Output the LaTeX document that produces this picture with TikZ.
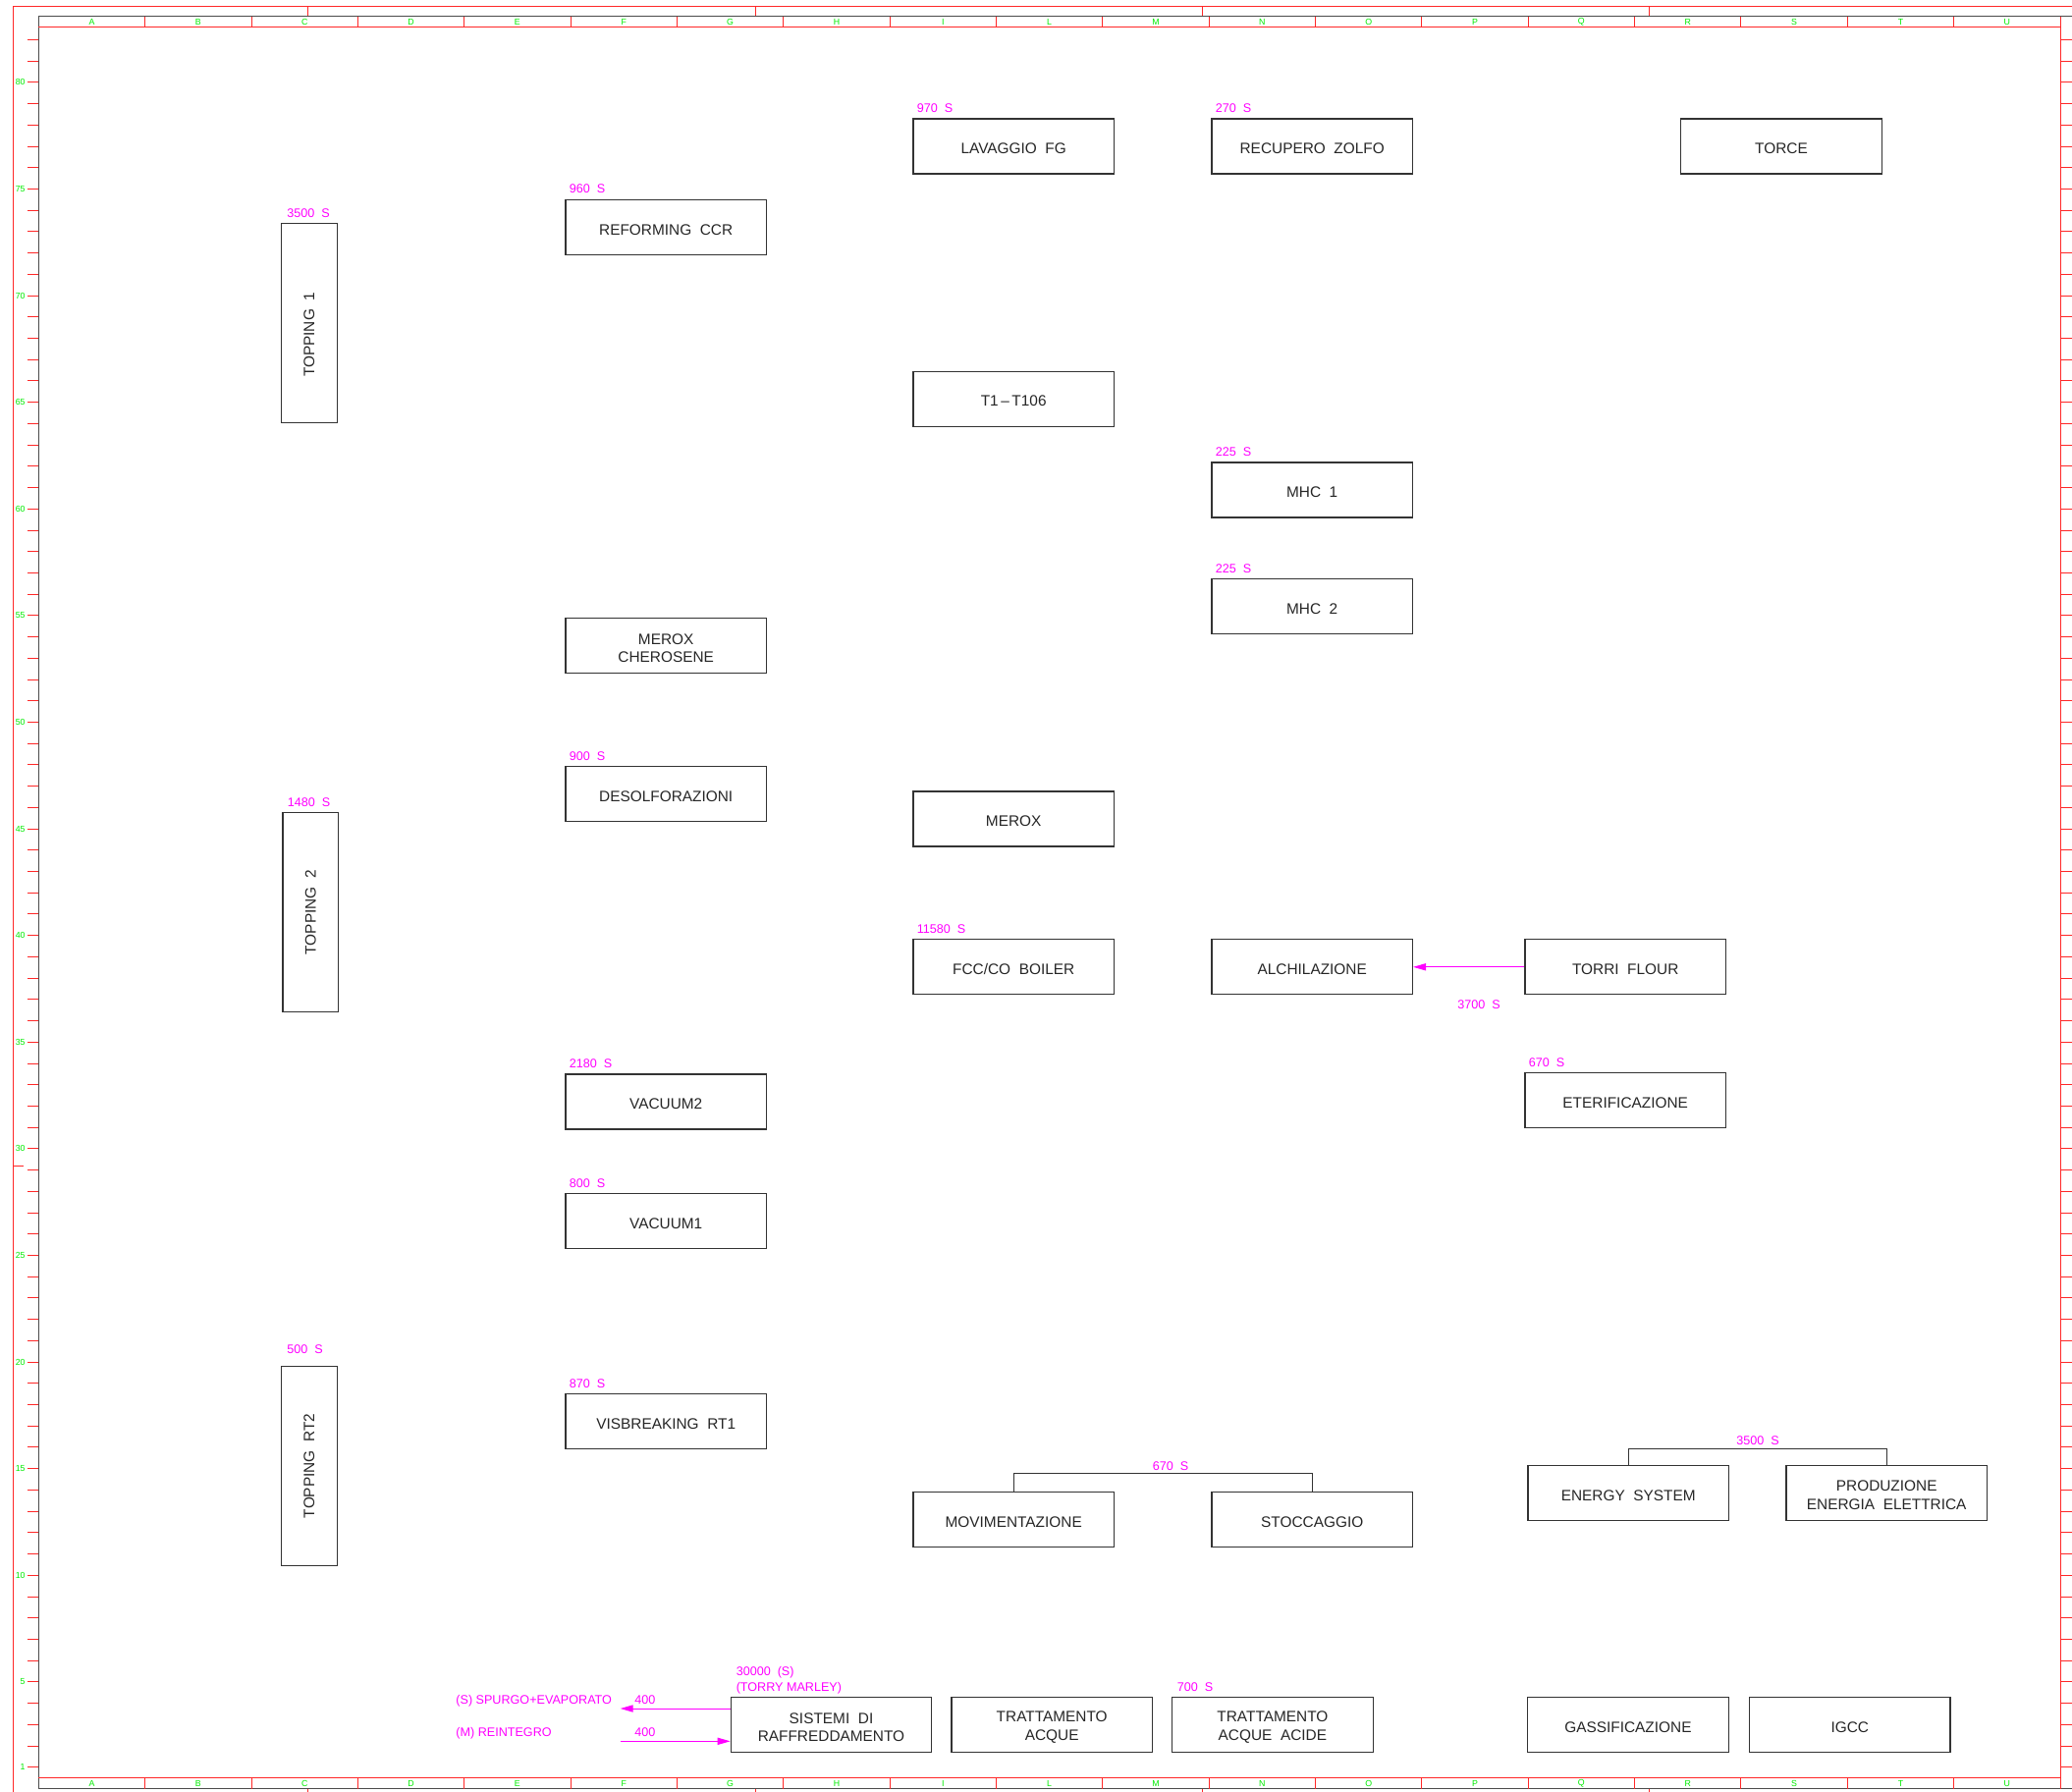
\documentclass[tikz,border=0pt]{standalone}
\usepackage{fontspec}
\setmainfont{Liberation Sans}
\usetikzlibrary{arrows.meta}
\definecolor{cadred}{RGB}{255,40,40}
\definecolor{cadgreen}{RGB}{0,235,0}
\definecolor{cadmag}{RGB}{255,0,255}
\newcommand{\ut}{\rule{0pt}{7.9pt}}
\tikzset{
  redl/.style={draw=cadred, line width=0.5pt},
  blackl/.style={draw=black!70, line width=0.7pt},
  unit/.style={draw=black!80, line width=0.6pt, minimum width=102.25pt, minimum height=28pt,
    inner sep=0pt, align=center, text=black!85, font=\fontsize{7.7}{9.3}\selectfont},
  vunit/.style={unit, minimum width=28.25pt, minimum height=101.6pt},
  lab/.style={text=cadmag, font=\fontsize{6.3}{7.8}\selectfont, inner sep=0pt, anchor=base west},
  rulerlab/.style={text=cadgreen, font=\fontsize{4.4}{5}\selectfont, inner sep=0pt},
  marrow/.style={draw=cadmag, line width=0.5pt, -{Triangle[length=6.5pt,width=3.6pt]}},
  bracket/.style={draw=black!80, line width=0.55pt}
}
\begin{document}
\begin{tikzpicture}[x=0.5pt,y=-0.5pt]
\useasboundingbox (0,0) rectangle (2110,1825);
% ---------------- sheet frame ----------------
\draw[redl] (13,1825) -- (13,6.5) -- (2110,6.5);
\foreach \xx in {313.6,769.7,1224.6,1679.4} {
  \draw[redl] (\xx,6.5) -- (\xx,16.7);
  \draw[redl] (\xx,1821.7) -- (\xx,1825);
}
\draw[redl] (13,1187) -- (24,1187);
\draw[blackl] (2110,16.7) -- (39.3,16.7) -- (39.3,1821.7) -- (2110,1821.7);
\draw[redl] (2098,16.7) -- (2098,1821.7);
\draw[redl] (39.3,27.7) -- (2098,27.7);
\draw[redl] (39.3,1810.3) -- (2098,1810.3);
\foreach \i in {1,...,18} {
  \draw[redl] ({39.3+108.35*\i},16.7) -- ({39.3+108.35*\i},27.7);
  \draw[redl] ({39.3+108.35*\i},1810.3) -- ({39.3+108.35*\i},1821.7);
}
\foreach \l [count=\i] in {A,B,C,D,E,F,G,H,I,L,M,N,O,P,Q,R,S,T,U} {
  \node[rulerlab] (ct\i) at ({39.3+108.35*(\i-0.5)},22.4) {\l};
  \node[rulerlab] (cb\i) at ({39.3+108.35*(\i-0.5)},1816.2) {\l};
}
\foreach \k in {1,...,82} {
  \draw[redl] (28.3,{1821.5-21.72*\k}) -- (39.3,{1821.5-21.72*\k});
  \draw[redl] (2098,{1821.5-21.72*\k}) -- (2110,{1821.5-21.72*\k});
}
\foreach \k in {1,5,10,15,20,25,30,35,40,45,50,55,60,65,70,75,80} {
  \node[rulerlab, anchor=east] (r\k) at (26,{1821.5-21.72*\k}) {\k};
}
% ---------------- units ----------------
\node[unit] (lav) at (1032.2,149.1) {\ut LAVAGGIO\ \ FG};
\node[unit] (rec) at (1336.2,149.1) {\ut RECUPERO\ \ ZOLFO};
\node[unit] (torce) at (1814,149.1) {\ut TORCE};
\node[unit] (ref) at (678.2,231.2) {\ut REFORMING\ \ CCR};
\node[vunit] (top1) at (314.9,328.9) {\rotatebox{90}{TOPPING\ \ 1\hspace*{12pt}}};
\node[unit] (t1) at (1032.2,406.1) {\ut T1\,–\,T106};
\node[unit] (mhc1) at (1336.2,499) {\ut MHC\ \ 1};
\node[unit] (mhc2) at (1336.2,617.4) {\ut MHC\ \ 2};
\node[unit] (meroxc) at (678.2,657.8) {\ut MEROX\\CHEROSENE};
\node[unit] (desolf) at (678.2,808.5) {\ut DESOLFORAZIONI};
\node[vunit] (top2) at (316.2,929.1) {\rotatebox{90}{TOPPING\ \ 2}};
\node[unit] (merox) at (1032.2,834) {\ut MEROX};
\node[unit] (fcc) at (1032.2,984.8) {\ut FCC/CO\ \ BOILER};
\node[unit] (alch) at (1336.2,984.8) {\ut ALCHILAZIONE};
\node[unit] (torri) at (1655.2,984.8) {\ut TORRI\ \ FLOUR};
\node[unit] (eter) at (1655.2,1120.7) {\ut ETERIFICAZIONE};
\node[unit] (vac2) at (678.2,1122) {\ut VACUUM2};
\node[unit] (vac1) at (678.2,1243.2) {\ut VACUUM1};
\node[vunit] (toprt2) at (314.9,1492.9) {\rotatebox{90}{TOPPING\ \ RT2}};
\node[unit] (visb) at (678.2,1447.7) {\ut VISBREAKING\ \ RT1};
\node[unit] (mov) at (1032.2,1547.3) {\ut MOVIMENTAZIONE};
\node[unit] (stocc) at (1336.2,1547.3) {\ut STOCCAGGIO};
\node[unit] (energy) at (1658.2,1520.3) {\ut ENERGY\ \ SYSTEM};
\node[unit] (prod) at (1921.2,1520.3) {\ut PRODUZIONE\\ENERGIA\ \ ELETTRICA};
\node[unit] (sist) at (846.5,1756.5) {\ut SISTEMI\ \ DI\\RAFFREDDAMENTO};
\node[unit] (tacq) at (1071.2,1756.5) {\ut TRATTAMENTO\\ACQUE};
\node[unit] (tacqa) at (1295.9,1756.5) {\ut TRATTAMENTO\\ACQUE\ \ ACIDE};
\node[unit] (gass) at (1657.9,1756.5) {\ut GASSIFICAZIONE};
\node[unit] (igcc) at (1883.8,1756.5) {\ut IGCC};
% ---------------- capacity labels ----------------
\node[lab] (llav) at ([xshift=2pt,yshift=2.8pt]lav.north west) {970\ \ S};
\node[lab] (lrec) at ([xshift=2pt,yshift=2.8pt]rec.north west) {270\ \ S};
\node[lab] (lref) at ([xshift=2pt,yshift=2.8pt]ref.north west) {960\ \ S};
\node[lab] (ltop1) at ([xshift=3pt,yshift=2.8pt]top1.north west) {3500\ \ S};
\node[lab] (lmhc1) at ([xshift=2pt,yshift=2.8pt]mhc1.north west) {225\ \ S};
\node[lab] (lmhc2) at ([xshift=2pt,yshift=2.8pt]mhc2.north west) {225\ \ S};
\node[lab] (ldesolf) at ([xshift=2pt,yshift=2.8pt]desolf.north west) {900\ \ S};
\node[lab] (ltop2) at ([xshift=2.5pt,yshift=2.8pt]top2.north west) {1480\ \ S};
\node[lab] (lfcc) at ([xshift=2pt,yshift=2.8pt]fcc.north west) {11580\ \ S};
\node[lab] (leter) at ([xshift=2pt,yshift=2.8pt]eter.north west) {670\ \ S};
\node[lab] (lvac2) at ([xshift=2pt,yshift=2.8pt]vac2.north west) {2180\ \ S};
\node[lab] (lvac1) at ([xshift=2pt,yshift=2.8pt]vac1.north west) {800\ \ S};
\node[lab] (ltoprt2) at ([xshift=3pt,yshift=6.3pt]toprt2.north west) {500\ \ S};
\node[lab] (lvisb) at ([xshift=2pt,yshift=2.8pt]visb.north west) {870\ \ S};
\node[lab] (ltacqa) at ([xshift=2.7pt,yshift=2.8pt]tacqa.north west) {700\ \ S};
\node[lab] (lsist2) at ([xshift=2.85pt,yshift=2.8pt]sist.north west) {(TORRY\ MARLEY)};
\node[lab] (lsist1) at ([xshift=2.85pt,yshift=10.65pt]sist.north west) {30000\ \ (S)};
% ---------------- brackets ----------------
\coordinate (bmov) at (1184,1500.4);
\draw[bracket] (mov.north) |- (bmov) -| (stocc.north);
\node[lab, anchor=base] (lbmov) at (1192,1497) {670\ \ S};
\coordinate (ben) at (1790,1475.7);
\draw[bracket] (energy.north) |- (ben) -| (prod.north);
\node[lab, anchor=base] (lben) at (1790,1471.5) {3500\ \ S};
% ---------------- flows ----------------
\draw[marrow] (torri.west) -- (alch.east);
\node[lab, anchor=base] (ltorri) at (1506,1027.8) {3700\ \ S};
\coordinate (spout) at (631.7,1740);
\coordinate (rein) at (631.7,1773.3);
\draw[marrow] (sist.west |- spout) -- (spout);
\draw[marrow] (rein) -- (sist.west |- rein);
\node[lab] (lsp) at (464,1735.2) {(S)\ SPURGO+EVAPORATO};
\node[lab] (lsp4) at (646,1735.2) {400};
\node[lab] (lre) at (464,1768.3) {(M)\ REINTEGRO};
\node[lab] (lre4) at (646,1768.3) {400};
\end{tikzpicture}
\end{document}
